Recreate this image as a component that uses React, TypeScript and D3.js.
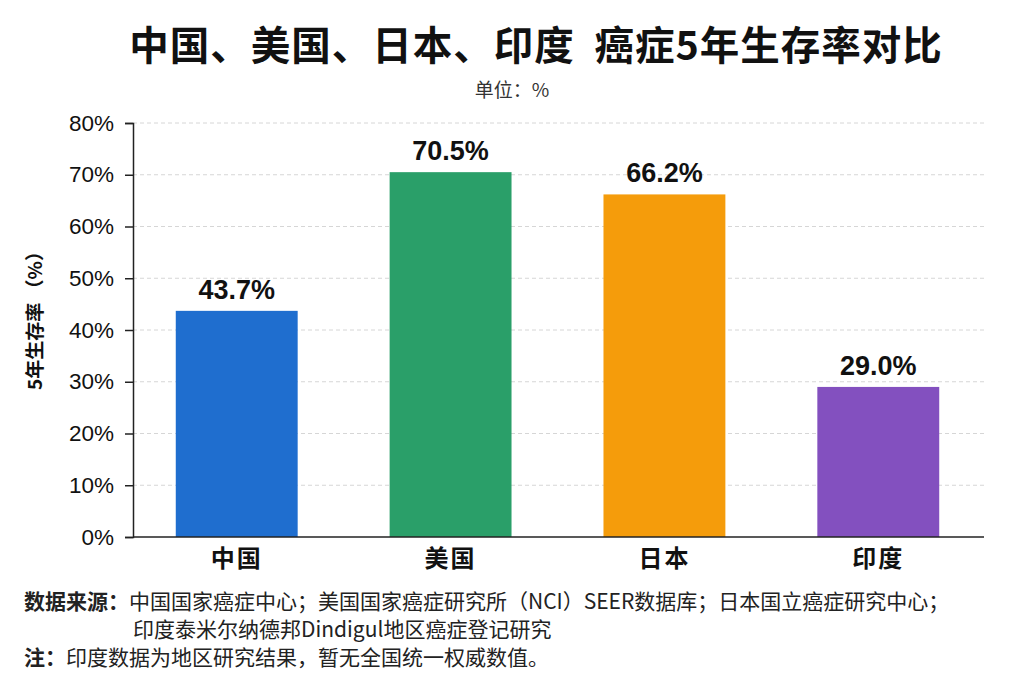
import { useEffect, useRef } from 'react';
import * as d3 from 'd3';

const countries = ['中国', '美国', '日本', '印度'];
const survival = [43.7, 70.5, 66.2, 29.0];
const barColors = ['#1F6ECF', '#2A9F69', '#F59C0B', '#8350BF'];
const yTicks = [0, 10, 20, 30, 40, 50, 60, 70, 80];

const FONT = '"Noto Sans CJK SC", "Noto Sans", sans-serif';
const NUM_FONT = '"Liberation Sans", "Noto Sans CJK SC", sans-serif';

export default function App() {
  const svgRef = useRef<SVGSVGElement>(null);

  useEffect(() => {
    if (!svgRef.current) return;
    const svg = d3.select(svgRef.current);
    svg.selectAll('*').remove();

    const width = 1024;
    const height = 682;
    const margin = { left: 133, right: 40, top: 123, bottom: 145 };
    const innerW = width - margin.left - margin.right;
    const innerH = height - margin.top - margin.bottom;

    svg.attr('width', width).attr('height', height).style('font-family', FONT);
    svg.append('rect').attr('width', width).attr('height', height).attr('fill', '#fff');

    // Title
    svg
      .append('text')
      .attr('x', 536)
      .attr('y', 60)
      .attr('text-anchor', 'middle')
      .attr('font-size', 39.5)
      .attr('font-weight', 700)
      .attr('letter-spacing', 1)
      .attr('fill', '#111')
      .text('中国、美国、日本、印度  癌症5年生存率对比')
      .attr('xml:space', 'preserve')
      .style('white-space', 'pre');

    svg
      .append('text')
      .attr('x', 512)
      .attr('y', 97)
      .attr('text-anchor', 'middle')
      .attr('font-size', 19)
      .attr('fill', '#333')
      .text('单位：%');

    const g = svg.append('g').attr('transform', `translate(${margin.left},${margin.top})`);

    const x = d3.scaleBand<string>().domain(countries).range([0, innerW - 2]).paddingInner(0.43).paddingOuter(0.2);
    const y = d3.scaleLinear().domain([0, 80]).range([innerH, 0]);

    // Grid
    g.append('g')
      .selectAll('line')
      .data(yTicks.filter((t) => t > 0))
      .enter()
      .append('line')
      .attr('x1', 0)
      .attr('x2', innerW)
      .attr('y1', (d) => y(d))
      .attr('y2', (d) => y(d))
      .attr('stroke', '#d6d6d6')
      .attr('stroke-width', 1)
      .attr('stroke-dasharray', '4,3');

    // Bars
    g.append('g')
      .selectAll('rect')
      .data(survival)
      .enter()
      .append('rect')
      .attr('x', (_, i) => x(countries[i]) ?? 0)
      .attr('width', x.bandwidth())
      .attr('y', (d) => y(d))
      .attr('height', (d) => innerH - y(d))
      .attr('fill', (_, i) => barColors[i]);

    // Value labels
    g.append('g')
      .selectAll('text')
      .data(survival)
      .enter()
      .append('text')
      .attr('x', (_, i) => (x(countries[i]) ?? 0) + x.bandwidth() / 2)
      .attr('y', (d) => y(d) - 12)
      .attr('text-anchor', 'middle')
      .attr('font-size', 27)
      .attr('font-weight', 700)
      .attr('fill', '#111')
      .style('font-family', NUM_FONT)
      .text((d) => `${d.toFixed(1)}%`);

    // Y axis
    const yAxis = g
      .append('g')
      .call(
        d3
          .axisLeft(y)
          .tickValues(yTicks)
          .tickSize(8)
          .tickPadding(11)
          .tickFormat((d) => `${d}%`)
      );
    yAxis.select('.domain').attr('stroke', '#222').attr('stroke-width', 1.5);
    yAxis.selectAll('.tick line').attr('stroke', '#222').attr('stroke-width', 1.5);
    yAxis
      .selectAll('.tick text')
      .attr('font-size', 22.5)
      .attr('fill', '#111')
      .style('font-family', NUM_FONT);

    // X axis
    const xAxis = g
      .append('g')
      .attr('transform', `translate(0,${innerH})`)
      .call(d3.axisBottom(x).tickSize(0).tickPadding(13));
    xAxis
      .select('.domain')
      .attr('d', `M0,0H${innerW}`)
      .attr('stroke', '#222')
      .attr('stroke-width', 1.5);
    xAxis
      .selectAll('.tick text')
      .attr('font-size', 24)
      .attr('font-weight', 700)
      .attr('letter-spacing', 2)
      .attr('fill', '#111')
      .style('font-family', FONT);

    // Y axis title
    svg
      .append('text')
      .attr('transform', `translate(42,316) rotate(-90)`)
      .attr('text-anchor', 'middle')
      .attr('font-size', 19)
      .attr('font-weight', 700)
      .attr('fill', '#111')
      .text('5年生存率 （%）');

    // Footer notes
    const foot = svg.append('g').attr('font-size', 21).attr('fill', '#222');
    const l1 = foot.append('text').attr('x', 24).attr('y', 609);
    l1.append('tspan').attr('font-weight', 700).text('数据来源：');
    l1.append('tspan').text('中国国家癌症中心；美国国家癌症研究所（NCI）SEER数据库；日本国立癌症研究中心；');
    foot
      .append('text')
      .attr('x', 133)
      .attr('y', 637)
      .text('印度泰米尔纳德邦Dindigul地区癌症登记研究');
    const l3 = foot.append('text').attr('x', 24).attr('y', 665);
    l3.append('tspan').attr('font-weight', 700).text('注：');
    l3.append('tspan').text('印度数据为地区研究结果，暂无全国统一权威数值。');
  }, []);

  return (
    <div style={{ width: 1024, height: 682, margin: -8 }}>
      <svg ref={svgRef} style={{ display: 'block' }} />
    </div>
  );
}
